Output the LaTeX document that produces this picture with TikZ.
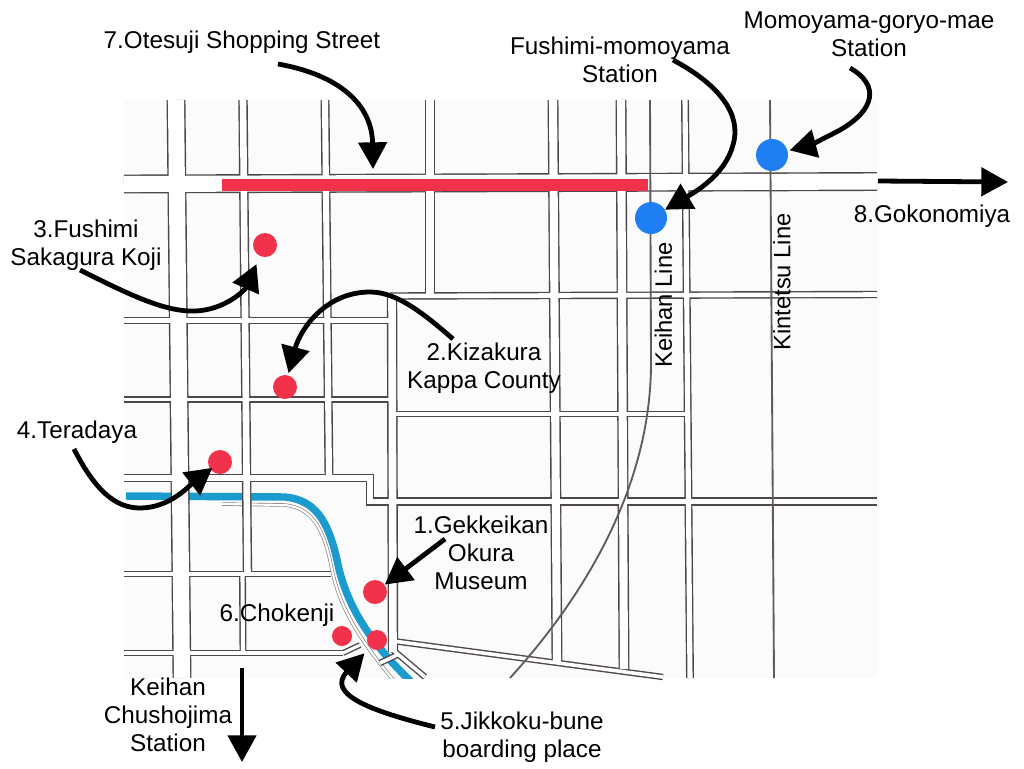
\documentclass[tikz,border=0pt]{standalone}
\usepackage{fontspec}
\setmainfont{Liberation Sans}
\usetikzlibrary{arrows.meta}
\definecolor{paperc}{HTML}{FBFBFB}
\definecolor{roadc}{HTML}{4E474A}
\definecolor{trainc}{HTML}{625A5C}
\definecolor{riverc}{HTML}{1C9BCF}
\definecolor{spotc}{HTML}{F2324A}
\definecolor{stationc}{HTML}{1F7FF2}
\tikzset{
  maptext/.style={align=center,inner sep=0pt,font=\fontsize{18.2}{21}\selectfont},
  linetext/.style={inner sep=0pt,rotate=90,font=\fontsize{17.8}{21}\selectfont},
  spot/.style={circle,fill=spotc,inner sep=0pt,minimum size=18pt},
  smallspot/.style={circle,fill=spotc,inner sep=0pt,minimum size=15pt},
  station/.style={circle,fill=stationc,inner sep=0pt,minimum size=24pt},
  callout/.style={black,line width=3.6pt,-{Triangle[length=20pt,width=21pt]}}
}
\newcommand{\roadlist}{
  176/100/182/678/17.5, 243/100/247.5/575/8, 242.5/575/243/653/5.5,
  325/100/329/477/7.5, 430/100/430/295/9.5, 392/295/393/652/9,
  553/100/557/662/9.5, 621/100/624/669/9.5, 685/100/690/678/6.5,
  124/184/877/181.5/17.5, 124/320.5/390/320.5/5.5, 124/399.5/390/399.5/5,
  390/296/877/294.5/6, 393/414/685/414/5, 124/574/331/574/5,
  124/653/343/653/4.5, 343/653/360/645/4.5, 393/641/663/677/5,
  380/663/397/655/5, 393/650/425/677/5}
\begin{document}
\begin{tikzpicture}[x=0.75pt,y=-0.75pt]
  \useasboundingbox (0,0) rectangle (1024,768);
  \fill[paperc] (124,100) rectangle (877,678);

  % river and canal path
  \begin{scope}
    \clip (124,100) rectangle (877,678);
    \draw[riverc,line width=5.6pt] (126,496) -- (285,497)
      .. controls (315,500) and (328,520) .. (337,560)
      .. controls (345,600) and (365,640) .. (420,690);
    \draw[gray,line width=0.5pt,double=white,double distance=1.6pt] (222,504) -- (285,505)
      .. controls (310,508) and (322,525) .. (330,560)
      .. controls (337,600) and (352,632) .. (400,688);
  \end{scope}

  % roads, dark pass then white pass
  \foreach \ax/\ay/\bx/\by/\w in \roadlist {
    \draw[roadc,line width={(\w+1.4)*0.75pt}] (\ax,\ay) -- (\bx,\by);
  }
  \draw[roadc,line width=6.2pt,line join=miter] (124,478) -- (370,478) -- (370,501.5) -- (877,501.5);
  \foreach \ax/\ay/\bx/\by/\w in \roadlist {
    \draw[white,line width={(\w-1.4)*0.75pt}] (\ax,\ay) -- (\bx,\by);
  }
  \draw[white,line width=4.1pt,line join=miter] (124,478) -- (370,478) -- (370,501.5) -- (877,501.5);

  % train lines
  \draw[trainc,line width=1.4pt] (650,100) -- (651,360)
    .. controls (652,480) and (590,590) .. (510,678);
  \draw[trainc,line width=1.4pt] (770,100) -- (774,678);

  \node[fill=spotc,inner sep=0pt,minimum width=319.5pt,minimum height=9pt] (otesujibar) at (435,185) {};
  \node[spot] (kizakura) at (285,387) {};
  \node[spot] (sakagura) at (265,245) {};
  \node[spot] (teradaya) at (220,462) {};
  \node[spot] (gekkeikan) at (375,592) {};
  \node[smallspot] (chokenji) at (342,636) {};
  \node[smallspot] (jikkoku) at (377,640) {};
  \node[station] (fushimi) at (651,218) {};
  \node[station] (momoyama) at (772,155) {};

  \node[maptext] (otesujitext) at (242,42) {7.Otesuji Shopping Street};
  \node[maptext] (fushimitext) at (620,60) {Fushimi-momoyama\\Station};
  \node[maptext] (momoyamatext) at (869,34) {Momoyama-goryo-mae\\Station};
  \node[maptext] (gokonomiyatext) at (932,216) {8.Gokonomiya};
  \node[maptext] (sakaguratext) at (86,245) {3.Fushimi\\Sakagura Koji};
  \node[maptext] (kizakuratext) at (484,368) {2.Kizakura\\Kappa County};
  \node[maptext] (teradayatext) at (77,432) {4.Teradaya};
  \node[maptext] (gekkeikantext) at (481,553) {1.Gekkeikan\\Okura\\Museum};
  \node[maptext] (chokenjitext) at (277,615) {6.Chokenji};
  \node[maptext] (jikkokutext) at (522,737) {5.Jikkoku-bune\\boarding place};
  \node[maptext] (chushojimatext) at (168,715) {Keihan\\Chushojima\\Station};
  \node[linetext] (keihantext) at (663.5,305) {Keihan Line};
  \node[linetext] (kintetsutext) at (782,282) {Kintetsu Line};

  % callout arrows
  \coordinate (otesujitail) at (278,64);
  \coordinate (otesujitip) at (373,169);
  \coordinate (fushimitail) at (673,60);
  \coordinate (momoyamatail) at (850,68);
  \coordinate (gokonomiyatail) at (878,181);
  \coordinate (gokonomiyatip) at (1008,182);
  \coordinate (sakaguratail) at (80,270);
  \coordinate (kizakuratail) at (453,339);
  \coordinate (teradayatail) at (74,449);
  \coordinate (gekkeikantail) at (445,539);
  \coordinate (jikkokutail) at (435,727);
  \coordinate (chushojimatail) at (242,668);
  \coordinate (chushojimatip) at (242,762);

  \draw[callout] (otesujitail) .. controls (340,75) and (372,105) .. (otesujitip);
  \draw[callout] (fushimitail) .. controls (720,85) and (742,115) .. (733,145)
    .. controls (725,175) and (695,192) .. (fushimi);
  \draw[callout,shorten >=1.5pt] (momoyamatail) .. controls (880,85) and (875,110) .. (840,130)
    .. controls (825,138) and (810,145) .. (momoyama);
  \draw[callout] (gokonomiyatail) -- (gokonomiyatip);
  \draw[callout,shorten >=6.5pt] (sakaguratail) .. controls (130,295) and (165,312) .. (195,311)
    .. controls (225,310) and (245,290) .. (sakagura);
  \draw[callout,shorten >=1.5pt] (kizakuratail) .. controls (420,310) and (395,292) .. (370,292)
    .. controls (325,292) and (300,330) .. (kizakura);
  \draw[callout,shorten >=-2pt] (teradayatail) .. controls (95,490) and (115,508) .. (140,508)
    .. controls (170,508) and (190,485) .. (teradaya);
  \draw[callout] (gekkeikantail) -- (gekkeikan);
  \draw[callout,shorten >=6pt] (jikkokutail) .. controls (375,712) and (325,695) .. (jikkoku);
  \draw[callout] (chushojimatail) -- (chushojimatip);
\end{tikzpicture}
\end{document}
